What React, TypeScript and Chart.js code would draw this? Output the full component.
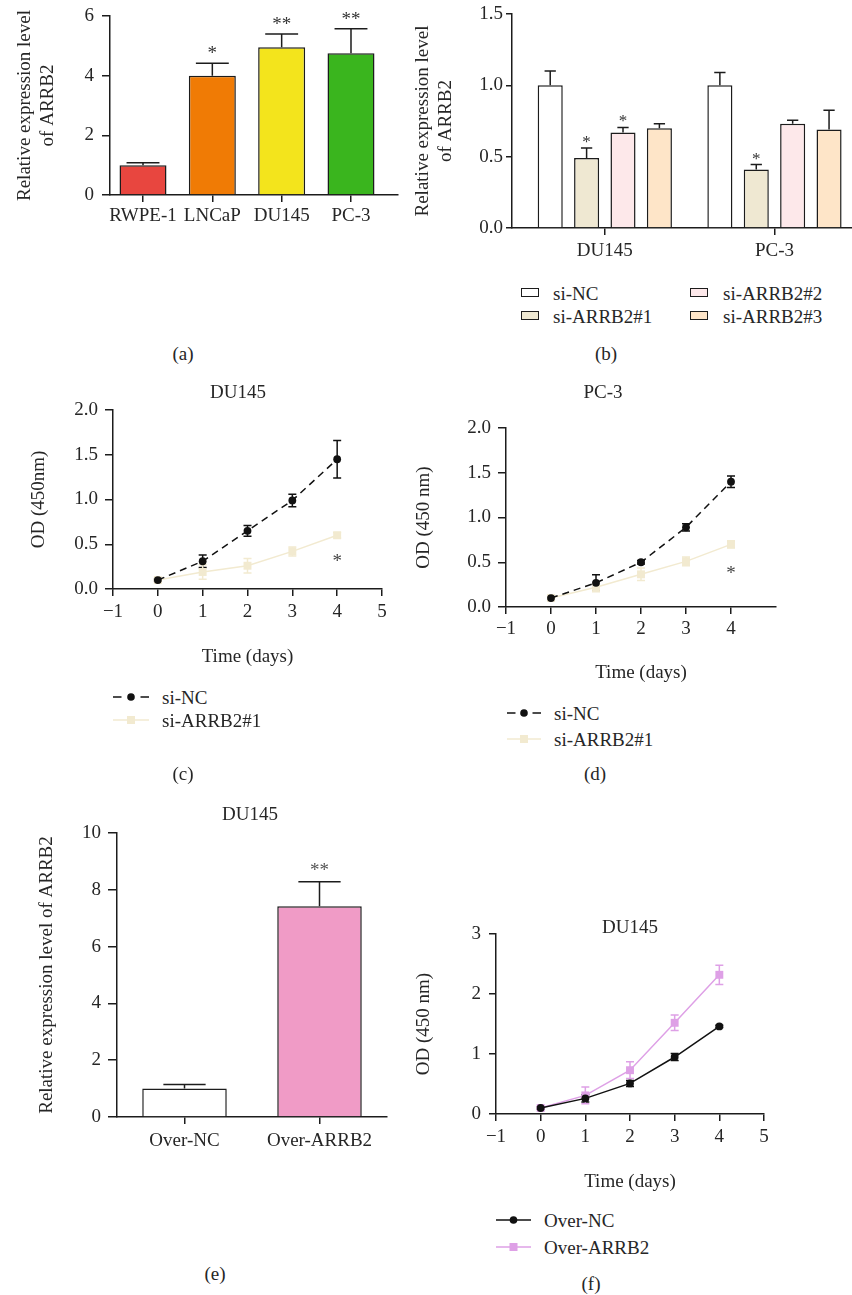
import React, { useEffect, useRef } from "react";
import { Chart, registerables } from "chart.js";

Chart.register(...registerables);

// ---------------- data ----------------
// (a)
const aCategories = ["RWPE-1", "LNCaP", "DU145", "PC-3"];
const aValues = [1.0, 4.0, 4.95, 4.75];
const aErrors = [0.08, 0.42, 0.45, 0.82];
const aStars = ["", "*", "**", "**"];
const aColors = ["#e8463f", "#f07b05", "#f3e41c", "#3ab51e"];

// (b)
const bGroups = ["DU145", "PC-3"];
const bSeries = ["si-NC", "si-ARRB2#1", "si-ARRB2#2", "si-ARRB2#3"];
const bSiNC = [1.0, 1.0];
const bSiNCErr = [0.1, 0.09];
const bSi1 = [0.49, 0.41];
const bSi1Err = [0.07, 0.035];
const bSi2 = [0.67, 0.73];
const bSi2Err = [0.035, 0.025];
const bSi3 = [0.7, 0.69];
const bSi3Err = [0.03, 0.135];
const bSiNCStars = ["", ""];
const bSi1Stars = ["*", "*"];
const bSi2Stars = ["*", ""];
const bSi3Stars = ["", ""];
const bColors = ["#ffffff", "#efe8d2", "#fde8ea", "#fee5c8"];

// (c) / (d) / (f)
const days = [0, 1, 2, 3, 4];
const cSiNC = [0.1, 0.31, 0.65, 0.99, 1.45];
const cSiNCErr = [0.01, 0.07, 0.06, 0.07, 0.21];
const cSi1 = [0.1, 0.19, 0.26, 0.42, 0.6];
const cSi1Err = [0.01, 0.08, 0.08, 0.05, 0.03];
const cSi1Stars = ["", "", "", "", "*"];
const dSiNC = [0.1, 0.27, 0.5, 0.89, 1.4];
const dSiNCErr = [0.01, 0.09, 0.02, 0.04, 0.065];
const dSi1 = [0.1, 0.22, 0.365, 0.51, 0.7];
const dSi1Err = [0.01, 0.05, 0.07, 0.05, 0.04];
const dSi1Stars = ["", "", "", "", "*"];

// (e)
const eCategories = ["Over-NC", "Over-ARRB2"];
const eValues = [1.0, 7.42];
const eErrors = [0.14, 0.86];
const eStars = ["", "**"];
const eColors = ["#ffffff", "#f09bc6"];

// (f)
const fOverNC = [0.1, 0.26, 0.51, 0.95, 1.46];
const fOverNCErr = [0.02, 0.06, 0.05, 0.06, 0.02];
const fOverARRB2 = [0.1, 0.31, 0.73, 1.52, 2.32];
const fOverARRB2Err = [0.02, 0.14, 0.14, 0.13, 0.16];

const lineXTicks = [-1, 0, 1, 2, 3, 4, 5];
const lineXTicksD = [-1, 0, 1, 2, 3, 4];

// ---------------- styles ----------------
const FONT = '"Liberation Serif", "Times New Roman", Times, serif';
const FS = 19;
const TEXT = "#262626";
const AXIS = "#1c1c1c";
const BLACK = "#111111";
const BEIGE = "#f2ead0";
const VIOLET = "#dea0e6";

// chart-area boxes (page px) and axis geometry
const LA: any = { l: 110, t: 16, r: 398, b: 195, yW: 110, xH: 40, padT: 24, padR: 14, yTl: 8, yPad: 8, xTl: 7, xPad: 3, titleX: 25 };
const LB: any = { l: 512, t: 14, r: 852, b: 228, yW: 110, xH: 40, padT: 24, padR: 0, yTl: 6, yPad: 3, xTl: 7, xPad: 5, titleX: 423 };
const LC: any = { l: 113, t: 410, r: 382, b: 589, yW: 113, xH: 80, padT: 24, padR: 14, yTl: 8, yPad: 7, xTl: 7, xPad: 5, titleX: 39, xTitleY: 657 };
const LD: any = { l: 506, t: 428, r: 776, b: 607, yW: 100, xH: 80, padT: 24, padR: 14, yTl: 8, yPad: 7, xTl: 7, xPad: 4, titleX: 424, xTitleY: 673 };
const LE: any = { l: 117, t: 833, r: 387, b: 1117, yW: 117, xH: 40, padT: 24, padR: 14, yTl: 9, yPad: 7, xTl: 7, xPad: 6, titleX: 47 };
const LF: any = { l: 496, t: 934, r: 764, b: 1114, yW: 90, xH: 80, padT: 24, padR: 14, yTl: 7, yPad: 8, xTl: 7, xPad: 5, titleX: 424, xTitleY: 1182 };

// ---------------- plugin: error bars + asterisks ----------------
function drawErrors(chart: any, kind: string, opts: any) {
  const ctx = chart.ctx;
  const ys = chart.scales.y;
  chart.data.datasets.forEach((ds: any, di: number) => {
    const meta = chart.getDatasetMeta(di);
    if (meta.type !== kind || !ds.errors) return;
    ctx.save();
    ctx.strokeStyle = ds.errorColor || AXIS;
    ctx.lineWidth = 1.5;
    meta.data.forEach((el: any, i: number) => {
      const v = ds.data[i].y;
      const e = ds.errors[i];
      const yTop = ys.getPixelForValue(v + e);
      const yBot = kind === "bar" ? ys.getPixelForValue(v) : ys.getPixelForValue(v - e);
      const half = kind === "bar" ? (el.width * opts.capRatio) / 2 : opts.capHalf;
      ctx.beginPath();
      ctx.moveTo(el.x, yTop);
      ctx.lineTo(el.x, yBot);
      ctx.moveTo(el.x - half, yTop);
      ctx.lineTo(el.x + half, yTop);
      if (kind === "line") {
        ctx.moveTo(el.x - half, yBot);
        ctx.lineTo(el.x + half, yBot);
      }
      ctx.stroke();
    });
    ctx.restore();
  });
}

function drawStars(chart: any, opts: any) {
  const ctx = chart.ctx;
  const ys = chart.scales.y;
  chart.data.datasets.forEach((ds: any, di: number) => {
    if (!ds.stars) return;
    const meta = chart.getDatasetMeta(di);
    ctx.save();
    ctx.font = `${opts.starSize}px ${FONT}`;
    ctx.fillStyle = opts.starColor;
    ctx.textAlign = "center";
    ctx.textBaseline = "alphabetic";
    meta.data.forEach((el: any, i: number) => {
      const s = ds.stars[i];
      if (!s) return;
      let y;
      if (meta.type === "bar") {
        y = ys.getPixelForValue(ds.data[i].y + ds.errors[i]) - opts.starGap;
      } else {
        y = el.y + opts.starBelow;
      }
      ctx.fillText(s, el.x, y);
    });
    ctx.restore();
  });
}

const errorStarsPlugin = {
  id: "errorStars",
  beforeDatasetsDraw(chart: any, _a: any, opts: any) {
    drawErrors(chart, "line", opts);
  },
  afterDatasetsDraw(chart: any, _a: any, opts: any) {
    drawErrors(chart, "bar", opts);
    drawStars(chart, opts);
  },
};

// ---------------- scale builders ----------------
const axisGrid = (tl: number) => ({
  display: true,
  drawOnChartArea: false,
  drawTicks: true,
  tickLength: tl,
  color: AXIS,
  lineWidth: 1.5,
  offset: false,
});
const axisBorder = { display: true, color: AXIS, width: 1.5 };

function yScale(L: any, min: number, max: number, step: number, fmt: (v: number) => string, title: any) {
  const lh = FS * 1.2;
  return {
    type: "linear",
    min,
    max,
    ticks: { stepSize: step, padding: L.yPad, color: TEXT, font: { family: FONT, size: FS }, callback: (v: any) => fmt(v) },
    grid: axisGrid(L.yTl),
    border: axisBorder,
    title: {
      display: true,
      text: title,
      color: TEXT,
      font: { family: FONT, size: FS, lineHeight: 1.2 },
      padding: { top: L.titleX - (L.l - L.yW) - lh / 2, bottom: 0 },
    },
    afterFit: (s: any) => {
      s.width = L.yW;
    },
  };
}

function catX(L: any, cats: string[], min: number, max: number) {
  return {
    type: "linear",
    min,
    max,
    offset: false,
    afterBuildTicks: (s: any) => {
      s.ticks = cats.map((_, i) => ({ value: i }));
    },
    ticks: {
      padding: L.xPad,
      color: TEXT,
      font: { family: FONT, size: FS },
      autoSkip: false,
      maxRotation: 0,
      callback: (v: any) => cats[v] ?? "",
    },
    grid: axisGrid(L.xTl),
    border: axisBorder,
    afterFit: (s: any) => {
      s.height = L.xH;
    },
  };
}

function dayX(L: any, tickVals: number[]) {
  const lh = FS * 1.2;
  return {
    type: "linear",
    min: -1,
    max: 5,
    offset: false,
    afterBuildTicks: (s: any) => {
      s.ticks = tickVals.map((v) => ({ value: v }));
    },
    ticks: {
      padding: L.xPad,
      color: TEXT,
      font: { family: FONT, size: FS },
      autoSkip: false,
      maxRotation: 0,
      callback: (v: any) => (v < 0 ? "\u2212" + Math.abs(v) : String(v)),
    },
    grid: axisGrid(L.xTl),
    border: axisBorder,
    title: {
      display: true,
      text: "Time (days)",
      color: TEXT,
      font: { family: FONT, size: FS, lineHeight: 1.2 },
      padding: { top: 0, bottom: L.b + L.xH - L.xTitleY - lh / 2 },
    },
    afterFit: (s: any) => {
      s.height = L.xH;
    },
  };
}

function baseOptions(L: any, scales: any, pluginOpts: any) {
  return {
    responsive: false,
    maintainAspectRatio: false,
    animation: false,
    devicePixelRatio: 1,
    events: [],
    layout: { padding: { top: L.padT, right: L.padR, bottom: 0, left: 0 } },
    plugins: { legend: { display: false }, tooltip: { enabled: false }, title: { display: false }, errorStars: pluginOpts },
    scales,
  };
}

const pts = (xs: number[], ys: number[]) => ys.map((y, i) => ({ x: xs[i], y }));
const idx = (ys: number[]) => ys.map((y, i) => ({ x: i, y }));
const fmt1 = (v: number) => v.toFixed(1);
const fmt0 = (v: number) => String(v);

// ---------------- chart configs ----------------
const makeA = () => ({
  type: "bar",
  data: {
    datasets: [
      {
        data: idx(aValues),
        backgroundColor: aColors,
        borderColor: AXIS,
        borderWidth: 1.5,
        borderSkipped: "start",
        barPercentage: 0.678,
        categoryPercentage: 1,
        errors: aErrors,
        stars: aStars,
        errorColor: AXIS,
      },
    ],
  },
  options: baseOptions(
    LA,
    { x: catX(LA, aCategories, -0.476, 3.678), y: yScale(LA, 0, 6, 2, fmt0, ["Relative expression level", "of ARRB2"]) },
    { capRatio: 0.7, starSize: 19, starGap: 4, starColor: "#333" }
  ),
  plugins: [errorStarsPlugin],
});

const bVals = [bSiNC, bSi1, bSi2, bSi3];
const bErrs = [bSiNCErr, bSi1Err, bSi2Err, bSi3Err];
const bStarSets = [bSiNCStars, bSi1Stars, bSi2Stars, bSi3Stars];
const makeB = () => ({
  type: "bar",
  data: {
    datasets: bSeries.map((name, k) => ({
      label: name,
      data: idx(bVals[k]),
      backgroundColor: bColors[k],
      borderColor: AXIS,
      borderWidth: 1.5,
      borderSkipped: "start",
      barPercentage: 0.689,
      categoryPercentage: 0.858,
      errors: bErrs[k],
      stars: bStarSets[k],
      errorColor: AXIS,
    })),
  },
  options: baseOptions(
    LB,
    { x: catX(LB, bGroups, -0.547, 1.457), y: yScale(LB, 0, 1.5, 0.5, fmt1, ["Relative expression level", "of ARRB2"]) },
    { capRatio: 0.45, starSize: 17, starGap: 1, starColor: "#333" }
  ),
  plugins: [errorStarsPlugin],
});

function lineConfig(L: any, xTicks: number[], yMax: number, yStep: number, yFmt: any, yTitle: string, series: any[], starBelow: number) {
  return {
    type: "line",
    data: {
      datasets: series.map((s) => ({
        label: s.label,
        data: pts(days, s.values),
        borderColor: s.color,
        backgroundColor: s.color,
        pointBackgroundColor: s.color,
        borderWidth: 1.5,
        borderDash: s.dashed ? [7, 5] : [],
        pointStyle: s.marker,
        pointRadius: s.marker === "rect" ? 5.6 : 3.9,
        pointBorderWidth: 0,
        tension: 0,
        fill: false,
        errors: s.errors,
        errorColor: s.color,
        stars: s.stars,
      })),
    },
    options: baseOptions(
      L,
      { x: dayX(L, xTicks), y: yScale(L, 0, yMax, yStep, yFmt, yTitle) },
      { capHalf: 4, starSize: 19, starBelow, starColor: "#444" }
    ),
    plugins: [errorStarsPlugin],
  };
}

const makeC = () =>
  lineConfig(LC, lineXTicks, 2, 0.5, fmt1, "OD (450nm)", [
    { label: "si-NC", values: cSiNC, errors: cSiNCErr, color: BLACK, dashed: true, marker: "circle" },
    { label: "si-ARRB2#1", values: cSi1, errors: cSi1Err, color: BEIGE, dashed: false, marker: "rect", stars: cSi1Stars },
  ], 32);

const makeD = () =>
  lineConfig(LD, lineXTicksD, 2, 0.5, fmt1, "OD (450 nm)", [
    { label: "si-NC", values: dSiNC, errors: dSiNCErr, color: BLACK, dashed: true, marker: "circle" },
    { label: "si-ARRB2#1", values: dSi1, errors: dSi1Err, color: BEIGE, dashed: false, marker: "rect", stars: dSi1Stars },
  ], 35);

const makeE = () => ({
  type: "bar",
  data: {
    datasets: [
      {
        data: idx(eValues),
        backgroundColor: eColors,
        borderColor: AXIS,
        borderWidth: 1.5,
        borderSkipped: "start",
        barPercentage: 0.626,
        categoryPercentage: 1,
        errors: eErrors,
        stars: eStars,
        errorColor: AXIS,
      },
    ],
  },
  options: baseOptions(
    LE,
    { x: catX(LE, eCategories, -0.5, 1.5), y: yScale(LE, 0, 10, 2, fmt0, "Relative expression level of ARRB2") },
    { capRatio: 0.5, starSize: 19, starGap: 6, starColor: "#555" }
  ),
  plugins: [errorStarsPlugin],
});

const makeF = () =>
  lineConfig(LF, lineXTicks, 3, 1, fmt0, "OD (450 nm)", [
    { label: "Over-NC", values: fOverNC, errors: fOverNCErr, color: BLACK, dashed: false, marker: "circle" },
    { label: "Over-ARRB2", values: fOverARRB2, errors: fOverARRB2Err, color: VIOLET, dashed: false, marker: "rect" },
  ], 30);

// ---------------- components ----------------
function ChartBox({ L, make }: { L: any; make: () => any }) {
  const ref = useRef<HTMLCanvasElement | null>(null);
  const x = L.l - L.yW;
  const y = L.t - L.padT;
  const w = L.r - L.l + L.yW + L.padR;
  const h = L.b - L.t + L.padT + L.xH;
  useEffect(() => {
    const chart = new Chart(ref.current as any, make() as any);
    return () => chart.destroy();
  }, []);
  return (
    <canvas
      ref={ref}
      width={w}
      height={h}
      style={{ position: "absolute", left: x, top: y, width: w, height: h }}
    />
  );
}

function Txt({ x, y, children, left = false, size = FS }: any) {
  return (
    <div
      style={{
        position: "absolute",
        left: x,
        top: y,
        transform: left ? "translate(0,-50%)" : "translate(-50%,-50%)",
        font: `${size}px ${FONT}`,
        lineHeight: 1,
        color: TEXT,
        whiteSpace: "nowrap",
      }}
    >
      {children}
    </div>
  );
}

function BoxSwatch({ x, y, color }: any) {
  return (
    <div
      style={{
        position: "absolute",
        left: x,
        top: y - 5,
        width: 16,
        height: 7,
        background: color,
        border: `1.5px solid ${AXIS}`,
      }}
    />
  );
}

function LineSwatch({ x, y, w, color, dashed, marker }: any) {
  const c = w / 2;
  return (
    <svg style={{ position: "absolute", left: x, top: y - 6 }} width={w} height={12}>
      {dashed ? (
        <>
          <line x1={0} x2={8.5} y1={6} y2={6} stroke={color} strokeWidth={1.5} />
          <line x1={w - 8.5} x2={w} y1={6} y2={6} stroke={color} strokeWidth={1.5} />
        </>
      ) : (
        <line x1={0} x2={w} y1={6} y2={6} stroke={color} strokeWidth={1.5} />
      )}
      {marker === "circle" ? (
        <circle cx={c} cy={6} r={3.8} fill={color} />
      ) : (
        <rect x={c - 4} y={2} width={8} height={8} fill={color} />
      )}
    </svg>
  );
}

export default function App() {
  return (
    <div
      style={{
        position: "absolute",
        left: 0,
        top: 0,
        width: 852,
        height: 1295,
        overflow: "hidden",
        background: "#ffffff",
      }}
    >
      <ChartBox L={LA} make={makeA} />
      <ChartBox L={LB} make={makeB} />
      <ChartBox L={LC} make={makeC} />
      <ChartBox L={LD} make={makeD} />
      <ChartBox L={LE} make={makeE} />
      <ChartBox L={LF} make={makeF} />

      {/* (b) legend */}
      <BoxSwatch x={521} y={293} color={bColors[0]} />
      <Txt x={553} y={293} left>{bSeries[0]}</Txt>
      <BoxSwatch x={521} y={316} color={bColors[1]} />
      <Txt x={553} y={316} left>{bSeries[1]}</Txt>
      <BoxSwatch x={690} y={293} color={bColors[2]} />
      <Txt x={723} y={293} left>{bSeries[2]}</Txt>
      <BoxSwatch x={690} y={316} color={bColors[3]} />
      <Txt x={723} y={316} left>{bSeries[3]}</Txt>

      {/* panel titles */}
      <Txt x={238} y={391}>DU145</Txt>
      <Txt x={603} y={391}>PC-3</Txt>
      <Txt x={250} y={813}>DU145</Txt>
      <Txt x={630} y={926}>DU145</Txt>

      {/* (c) legend */}
      <LineSwatch x={113} y={697} w={36} color={BLACK} dashed marker="circle" />
      <Txt x={162} y={697} left>si-NC</Txt>
      <LineSwatch x={113} y={720} w={36} color={BEIGE} marker="rect" />
      <Txt x={162} y={720} left>si-ARRB2#1</Txt>

      {/* (d) legend */}
      <LineSwatch x={507} y={713} w={34} color={BLACK} dashed marker="circle" />
      <Txt x={554} y={713} left>si-NC</Txt>
      <LineSwatch x={507} y={739} w={34} color={BEIGE} marker="rect" />
      <Txt x={554} y={739} left>si-ARRB2#1</Txt>

      {/* (f) legend */}
      <LineSwatch x={496} y={1220} w={35} color={BLACK} marker="circle" />
      <Txt x={544} y={1220} left>Over-NC</Txt>
      <LineSwatch x={496} y={1247} w={35} color={VIOLET} marker="rect" />
      <Txt x={544} y={1247} left>Over-ARRB2</Txt>

      {/* panel letters */}
      <Txt x={183} y={353}>(a)</Txt>
      <Txt x={606} y={353}>(b)</Txt>
      <Txt x={183} y={773}>(c)</Txt>
      <Txt x={595} y={773}>(d)</Txt>
      <Txt x={215} y={1273}>(e)</Txt>
      <Txt x={591} y={1283}>(f)</Txt>
    </div>
  );
}
